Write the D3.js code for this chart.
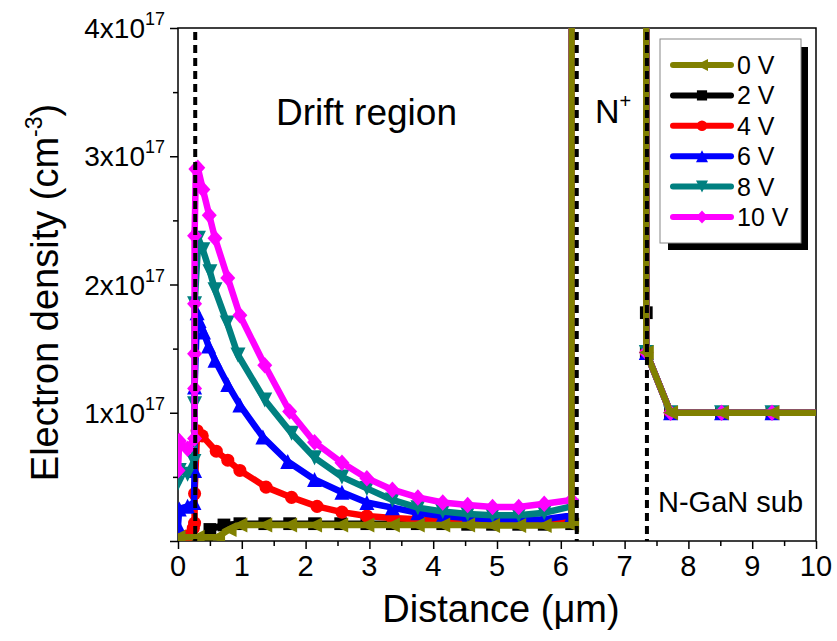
<!DOCTYPE html>
<html><head><meta charset="utf-8">
<script src="https://cdn.jsdelivr.net/npm/d3@7"></script>
<style>body{margin:0;background:#fff;} text{font-family:"Liberation Sans",Arial,sans-serif;}</style>
</head><body>
<svg id="c" width="837" height="641"></svg>
<script>
// ---- data (values in units of 1e17 cm^-3, distance in um) ----
const seriesNames = ["0 V","2 V","4 V","6 V","8 V","10 V"];
const seriesColors = ["#808000","#000000","#ff0000","#0000ff","#008080","#ff00ff"];
const seriesMarkers = ["triLeft","square","circle","triUp","triDown","diamond"];
const tail = [[6.17,40],[7.34,40],[7.34,1.47],[7.72,1.0],[8.52,1.0],[9.31,1.0],[10,1.0]];
const v0 = [[0,0.03],[0.3,0.03],[0.62,0.03],[0.8,0.09],[0.97,0.125],[1.36,0.125],[1.75,0.125],[2.14,0.125],[2.55,0.125],[2.96,0.125],[3.36,0.125],[3.75,0.125],[4.15,0.125],[4.54,0.125],[4.93,0.12],[5.34,0.12],[5.74,0.12],[6.17,0.125]];
const v2 = [[0,0.02],[0.45,0.02],[0.5,0.09],[0.72,0.125],[0.97,0.135],[1.36,0.135],[1.75,0.135],[2.14,0.135],[2.55,0.135],[2.96,0.135],[3.36,0.135],[3.75,0.135],[4.15,0.135],[4.54,0.13],[4.93,0.13],[5.34,0.13],[5.74,0.13],[6.17,0.135],[6.17,40],[7.34,40],[7.34,1.78]];
const v4 = [[0,0.02],[0.15,0.04],[0.24,0.1],[0.26,0.14],[0.26,0.37],[0.3,0.86],[0.38,0.82],[0.6,0.70],[0.78,0.63],[0.97,0.55],[1.38,0.42],[1.78,0.34],[2.18,0.27],[2.57,0.225],[2.96,0.195],[3.36,0.18],[3.75,0.17],[4.15,0.16],[4.54,0.155],[4.93,0.15],[5.34,0.15],[5.74,0.15],[6.17,0.16]];
const v6 = [[0,0.12],[0.02,0.25],[0.15,0.27],[0.25,0.3],[0.26,0.55],[0.26,1.2],[0.3,1.78],[0.33,1.72],[0.4,1.63],[0.48,1.52],[0.58,1.41],[0.78,1.22],[0.97,1.06],[1.33,0.81],[1.72,0.62],[2.14,0.48],[2.57,0.38],[2.96,0.30],[3.36,0.26],[3.76,0.22],[4.15,0.195],[4.54,0.18],[4.93,0.17],[5.34,0.165],[5.74,0.17],[6.17,0.2]];
const v8 = [[0,0.45],[0.02,0.55],[0.15,0.52],[0.25,0.62],[0.26,1.07],[0.26,1.85],[0.32,2.36],[0.39,2.27],[0.5,2.1],[0.58,1.96],[0.77,1.70],[0.94,1.45],[1.36,1.1],[1.78,0.84],[2.14,0.65],[2.57,0.50],[2.96,0.41],[3.36,0.32],[3.76,0.26],[4.15,0.23],[4.54,0.21],[4.93,0.2],[5.34,0.2],[5.74,0.22],[6.17,0.27]];
const v10 = [[0,0.55],[0.02,0.78],[0.15,0.72],[0.26,0.8],[0.26,1.19],[0.26,1.46],[0.26,1.85],[0.26,2.38],[0.28,2.9],[0.31,2.91],[0.39,2.74],[0.49,2.54],[0.58,2.36],[0.78,2.05],[0.97,1.76],[1.36,1.37],[1.75,1.01],[2.14,0.77],[2.57,0.61],[2.96,0.49],[3.36,0.40],[3.76,0.34],[4.15,0.30],[4.54,0.28],[4.93,0.265],[5.34,0.265],[5.74,0.29],[6.17,0.32]];
const seriesValues = [v0.concat(tail), v2.concat(tail.slice(2)), v4.concat(tail), v6.concat(tail), v8.concat(tail), v10.concat(tail)];
const dashedX = [0.27, 6.25, 7.35];
const xTicks = [0,1,2,3,4,5,6,7,8,9,10];
const yTicks = [1,2,3,4];
const yTickLabels = ["1x10","2x10","3x10","4x10"];

// ---- layout ----
const svg = d3.select("#c");
const L=178,R=816,T=28,B=541;
const x = d3.scaleLinear().domain([0,10]).range([L,R]);
const y = d3.scaleLinear().domain([0,4]).range([B,T]);

svg.append("defs").append("clipPath").attr("id","clip")
  .append("rect").attr("x",L).attr("y",T).attr("width",R-L).attr("height",B-T);

// axes
const xAxis = d3.axisBottom(x).tickValues(d3.range(0,10.01,0.5)).tickSize(5).tickFormat("");
const gx = svg.append("g").attr("transform",`translate(0,${B})`).call(xAxis);
gx.selectAll(".tick line").attr("y2",d=>Number.isInteger(d)?8:5).attr("stroke-width",1.5);
gx.select(".domain").remove();
xTicks.forEach(t=>{
  svg.append("text").attr("x",x(t)).attr("y",B+35).attr("text-anchor","middle")
    .attr("font-size",29).text(String(t));
});
const yAxis = d3.axisLeft(y).tickValues(d3.range(0,4.01,0.5)).tickSize(5).tickFormat("");
const gy = svg.append("g").attr("transform",`translate(${L},0)`).call(yAxis);
gy.selectAll(".tick line").attr("x2",d=>Number.isInteger(d)?-8:-5).attr("stroke-width",1.5);
gy.select(".domain").remove();
yTicks.forEach((t,i)=>{
  const tx = svg.append("text").attr("x",165).attr("y",y(t)+10).attr("text-anchor","end").attr("font-size",28);
  tx.append("tspan").text(yTickLabels[i]);
  tx.append("tspan").attr("font-size",18).attr("dy",-13).text("17");
});
svg.append("rect").attr("x",L).attr("y",T).attr("width",R-L).attr("height",B-T)
  .attr("fill","none").attr("stroke","#000").attr("stroke-width",1.5);

// titles
svg.append("text").attr("x",(L+R)/2+4).attr("y",622).attr("text-anchor","middle").attr("font-size",38).text("Distance (μm)");
const yt = svg.append("text").attr("transform",`translate(58,${(T+B)/2+8}) rotate(-90)`).attr("text-anchor","middle").attr("font-size",38);
yt.append("tspan").text("Electron density (cm");
yt.append("tspan").attr("font-size",23).attr("dy",-16).text("-3");
yt.append("tspan").attr("dy",16).text(")");

// annotations
svg.append("text").attr("x",276).attr("y",125).attr("font-size",37).text("Drift region");
const np = svg.append("text").attr("x",595).attr("y",123).attr("font-size",34);
np.append("tspan").text("N");
np.append("tspan").attr("font-size",20).attr("dy",-15).text("+");
svg.append("text").attr("x",658).attr("y",512).attr("font-size",29).text("N-GaN sub");

// marker shapes
function markerPath(type, s){
  const h=s/2;
  switch(type){
    case "triLeft": return `M${-h},0L${h},${-h}L${h},${h}Z`;
    case "triUp": return `M0,${-h}L${h},${h}L${-h},${h}Z`;
    case "triDown": return `M0,${h}L${h},${-h}L${-h},${-h}Z`;
    case "square": return `M${-h*0.85},${-h*0.85}H${h*0.85}V${h*0.85}H${-h*0.85}Z`;
    case "diamond": return `M0,${-h*1.1}L${h},0L0,${h*1.1}L${-h},0Z`;
    case "circle": return d3.symbol(d3.symbolCircle, s*s*0.6)();
  }
}

// series
const plot = svg.append("g").attr("clip-path","url(#clip)");
const line = d3.line().x(d=>x(d[0])).y(d=>y(d[1]));
const order = [1,2,3,4,5,0];
order.forEach(i=>{
  const g = plot.append("g");
  g.append("path").datum(seriesValues[i]).attr("d",line).attr("fill","none")
    .attr("stroke",seriesColors[i]).attr("stroke-width",6.5).attr("stroke-linejoin","round");
  g.selectAll("path.m").data(seriesValues[i].filter(d=>d[1]<=4 && d[0]<10)).enter().append("path")
    .attr("class","m").attr("transform",d=>`translate(${x(d[0])},${y(d[1])})`)
    .attr("d",markerPath(seriesMarkers[i],15)).attr("fill",seriesColors[i]);
});

// dashed lines
dashedX.forEach(d=>{
  svg.append("line").attr("x1",x(d)).attr("x2",x(d)).attr("y1",T+4).attr("y2",B)
    .attr("stroke","#000").attr("stroke-width",4).attr("stroke-dasharray","8,5");
});

// legend
svg.append("rect").attr("x",668).attr("y",47).attr("width",140).attr("height",203).attr("fill","#000");
svg.append("rect").attr("x",660).attr("y",39).attr("width",141).attr("height",204).attr("fill","#fff").attr("stroke","#888").attr("stroke-width",1);
seriesNames.forEach((n,i)=>{
  const yy = 65 + i*30.4;
  svg.append("line").attr("x1",673).attr("x2",731).attr("y1",yy).attr("y2",yy)
    .attr("stroke",seriesColors[i]).attr("stroke-width",6).attr("stroke-linecap","round");
  svg.append("path").attr("transform",`translate(702,${yy})`).attr("d",markerPath(seriesMarkers[i],12)).attr("fill",seriesColors[i]);
  svg.append("text").attr("x",737).attr("y",yy+9).attr("font-size",25).text(n);
});
</script>
</body></html>
